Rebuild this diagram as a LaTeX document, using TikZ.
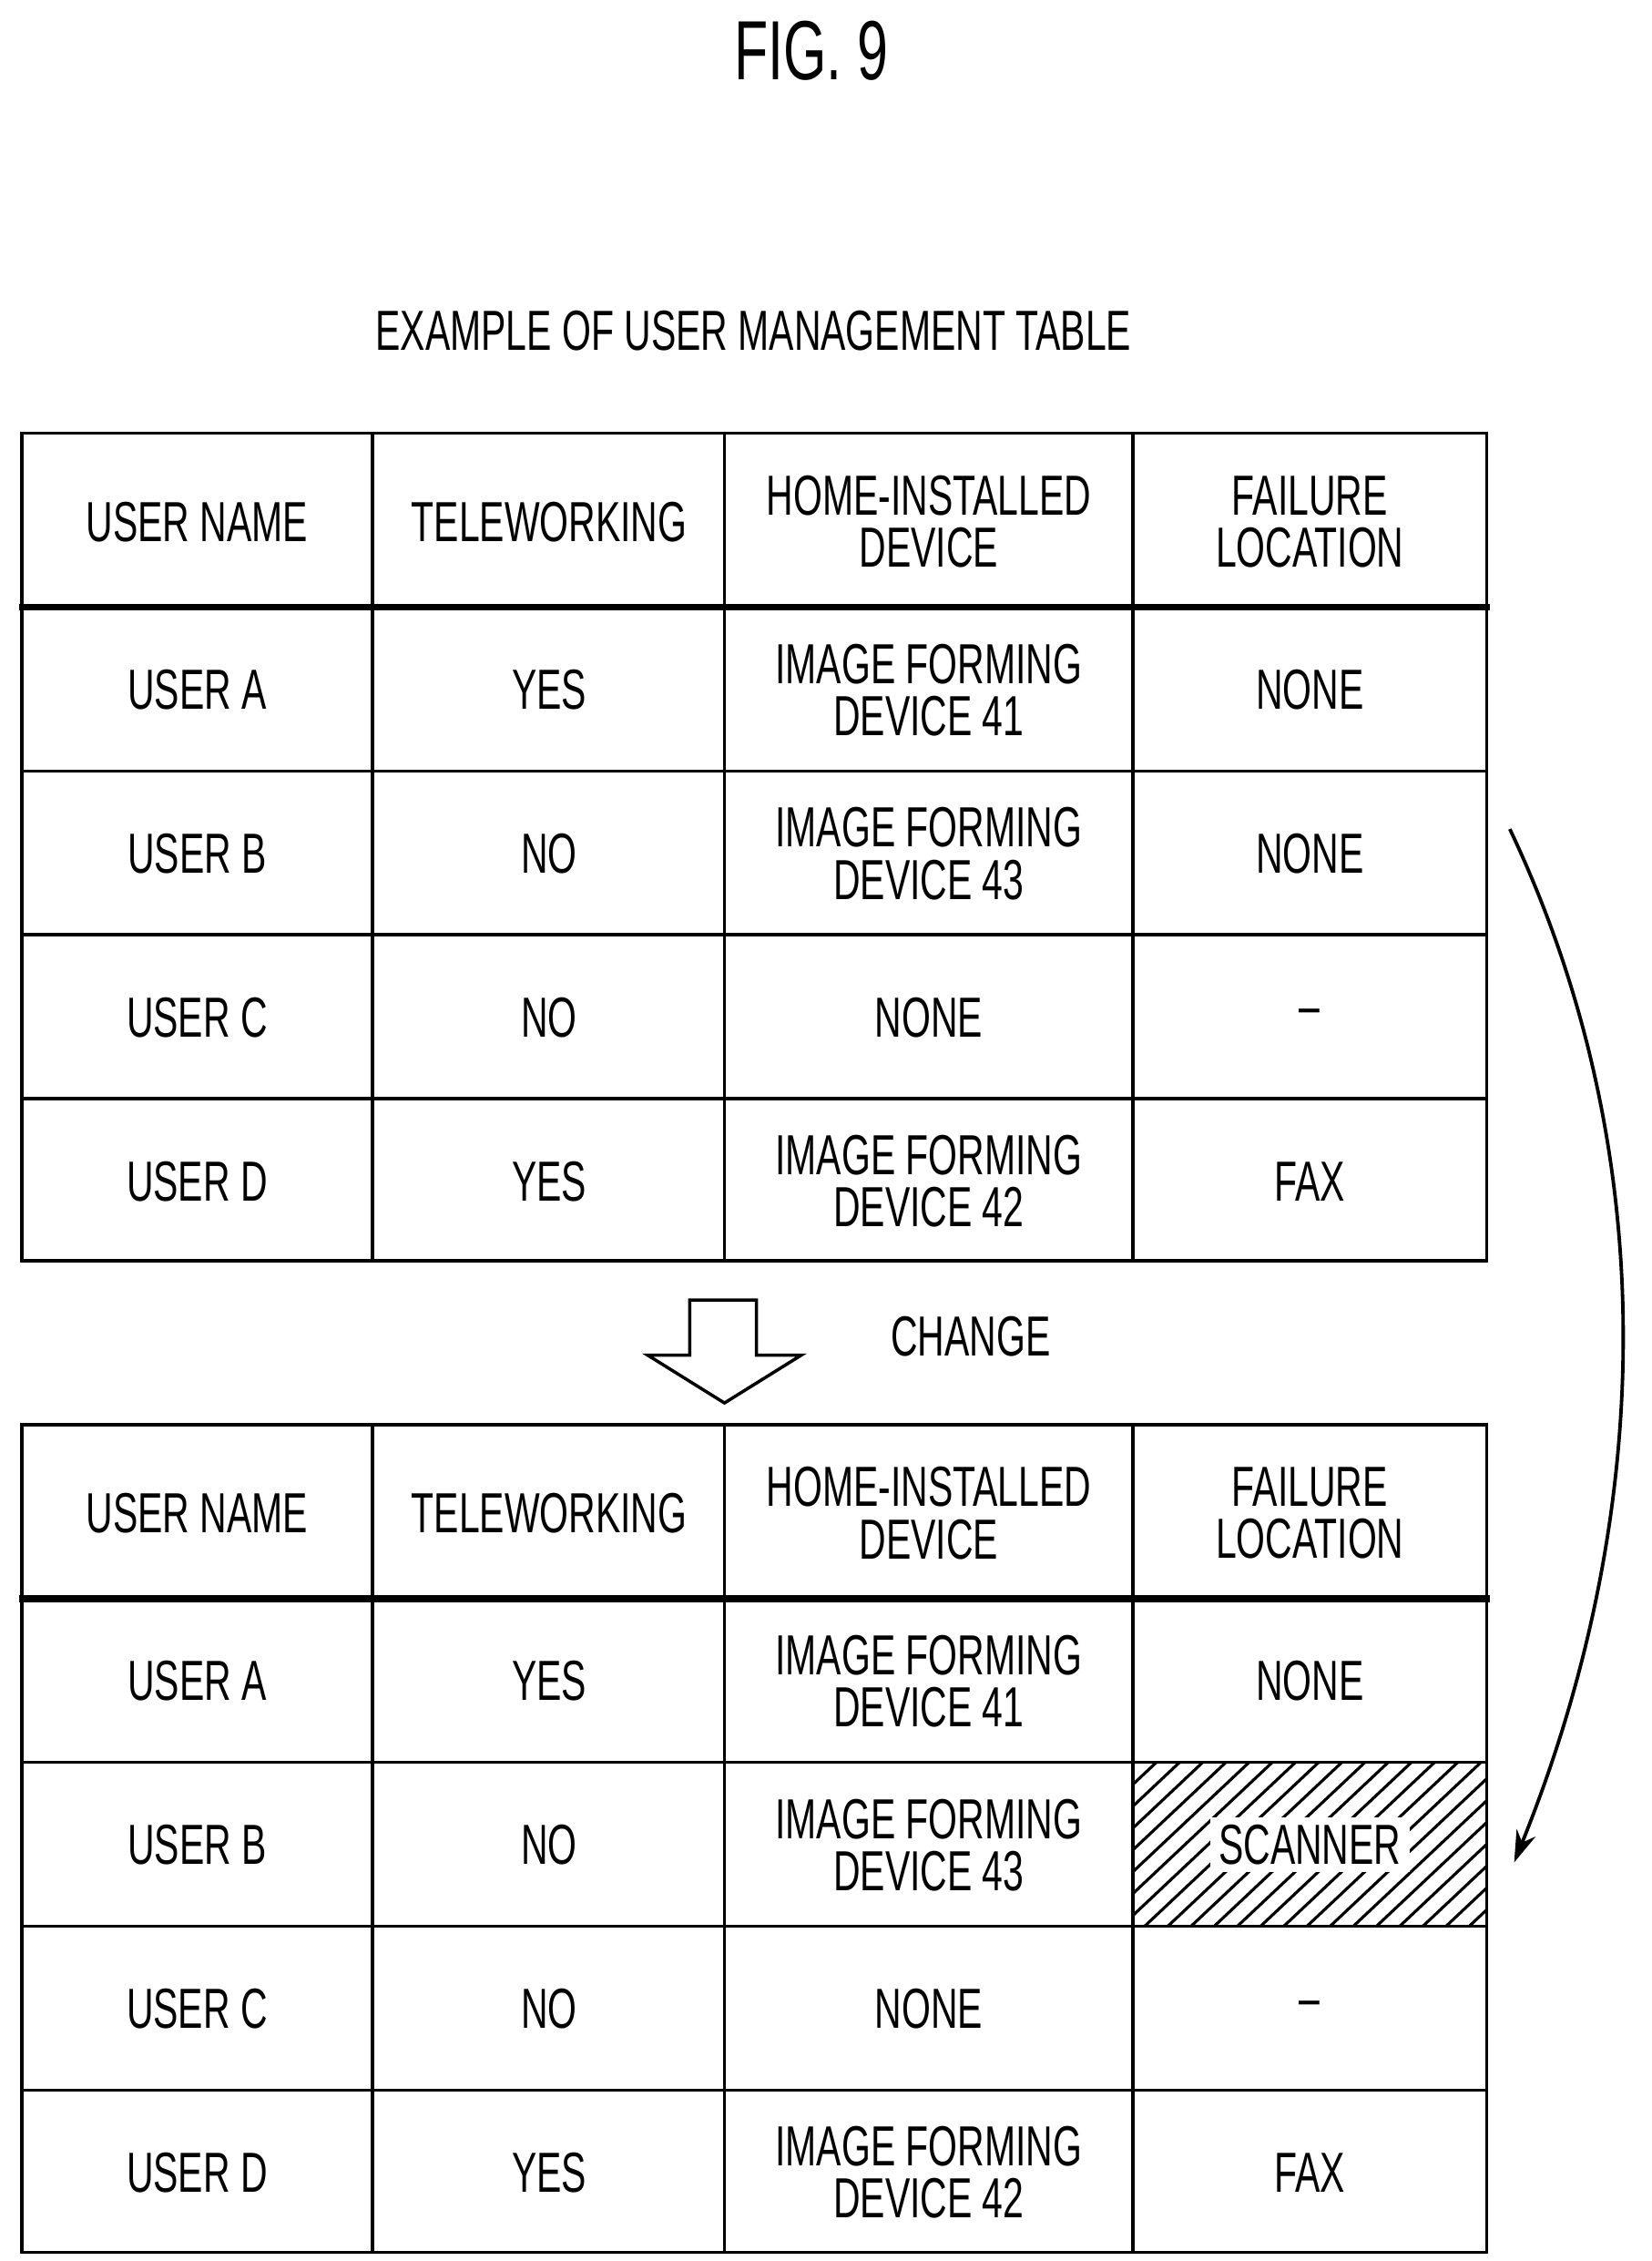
\documentclass[tikz,border=0pt]{standalone}
\usepackage{fontspec}
\setmainfont{Liberation Sans}[FakeStretch=0.66]
\usetikzlibrary{arrows.meta}
\begin{document}
\begin{tikzpicture}[x=1pt,y=-1pt,
  cell/.style={font=\fontsize{39}{36}\selectfont,align=center,inner sep=0pt},
  grid/.style={line width=2.2pt},
  thick line/.style={line width=4.5pt}]
\useasboundingbox (0,0) rectangle (1140,1560);
\node[font=\fontsize{58}{58}\selectfont] (fig) at (560,35) {FIG. 9};
\node[cell] (title) at (520,228) {EXAMPLE OF USER MANAGEMENT TABLE};
\newcommand\mytable[2]{%
 \begin{scope}[yshift=-#1]
 \draw[grid] (15,299) rectangle (1026,870);
 \foreach \x in {257,500,782} \draw[grid] (\x,299) -- (\x,870);
 \foreach \y in {532,645,758} \draw[grid] (15,\y) -- (1026,\y);
 \draw[thick line] (13,419) -- (1028,419);
 \node[cell] (#2h1) at (136,360) {USER NAME};
 \node[cell] (#2h2) at (379,360) {TELEWORKING};
 \node[cell] (#2h3) at (641,360) {HOME-INSTALLED\\DEVICE};
 \node[cell] (#2h4) at (904,360) {FAILURE\\LOCATION};
 \node[cell] (#2a1) at (136,476) {USER A};
 \node[cell] (#2a2) at (379,476) {YES};
 \node[cell] (#2a3) at (641,476) {IMAGE FORMING\\DEVICE 41};
 \node[cell] (#2b1) at (136,589) {USER B};
 \node[cell] (#2b2) at (379,589) {NO};
 \node[cell] (#2b3) at (641,589) {IMAGE FORMING\\DEVICE 43};
 \node[cell] (#2c1) at (136,702) {USER C};
 \node[cell] (#2c2) at (379,702) {NO};
 \node[cell] (#2c3) at (641,702) {NONE};
 \node[cell] (#2c4) at (904,702) {–};
 \node[cell] (#2d1) at (136,815) {USER D};
 \node[cell] (#2d2) at (379,815) {YES};
 \node[cell] (#2d3) at (641,815) {IMAGE FORMING\\DEVICE 42};
 \node[cell] (#2d4) at (904,815) {FAX};
 \node[cell] (#2a4) at (904,476) {NONE};
 \end{scope}}
\mytable{0}{t}
\node[cell] (tb4) at (904,589) {NONE};
\mytable{684}{u}
% hatched cell
\begin{scope}
\clip (782,1216) rectangle (1026,1329);
\foreach \i in {0,16,...,400} \draw[line width=2pt] (782+\i-120,1329) -- (782+\i,1216);
\end{scope}
\draw[grid] (782,1216) rectangle (1026,1329);
\node[cell,fill=white,inner xsep=6pt,inner ysep=5pt] (ub4) at (904,1273) {SCANNER};
% hollow arrow
\draw[line width=2.2pt,fill=white] (476,897) -- (522,897) -- (522,935) -- (553,935) -- (500,968) -- (447,935) -- (476,935) -- cycle;
\node[cell] (change) at (670,922) {CHANGE};
% curved arrow
\coordinate (s) at (1042,572);
\coordinate (e) at (1045,1285);
\draw[line width=2.4pt,-{Stealth[length=22pt,width=14pt]}] (s) .. controls (1150,800) and (1140,1050) .. (e);
\end{tikzpicture}
\end{document}
